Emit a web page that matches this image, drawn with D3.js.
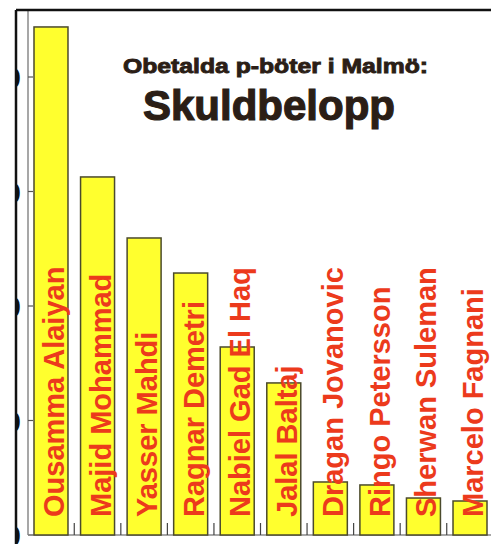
<!DOCTYPE html>
<html lang="sv">
<head>
<meta charset="UTF-8">
<title>Skuldbelopp</title>
<script src="https://d3js.org/d3.v7.min.js"></script>
<style>
    body { margin: 0; background: #fff; }
    svg { display: block; }
    .title { font-family: "Liberation Sans", Arial, sans-serif; font-weight: bold; fill: #2b1e16; stroke: #2b1e16; }
    .name { font-family: "Liberation Sans", Arial, sans-serif; font-size: 29px; font-weight: bold; fill: #ec3a1c; }
    .ytick { font-family: "Liberation Sans", Arial, sans-serif; font-size: 30px; font-weight: bold; fill: #111; }
</style>
</head>
<body>
<svg width="491" height="544"></svg>
<script>
    // bötesskulder per person (kr)
    const names = ["Ousamma Alaiyan", "Majid Mohammad", "Yasser Mahdi", "Ragnar Demetri",
        "Nabiel Gad El Haq", "Jalal Baltaj", "Dragan Jovanovic", "Ringo Petersson",
        "Sherwan Suleman", "Marcelo Fagnani"];
    const debts = [44370, 31270, 25940, 22880, 16420, 13280, 4630, 4370, 3230, 2970];
    const yTicks = [0, 10000, 20000, 30000, 40000];
    const titleLines = ["Obetalda p-böter i Malmö:", "Skuldbelopp"];

    const svg = d3.select("svg");

    const frameLeft = 16, frameTop = 10;
    const axisX = 28, baseY = 535;

    svg.append("defs").append("clipPath").attr("id", "frame")
        .append("rect").attr("x", frameLeft).attr("y", frameTop)
        .attr("width", 491 - frameLeft).attr("height", 544 - frameTop);

    const g = svg.append("g").attr("clip-path", "url(#frame)");

    const x = d3.scaleBand()
        .domain(names)
        .range([34, 487])
        .paddingInner(0.27)
        .paddingOuter(0);

    const y = d3.scaleLinear()
        .domain([0, 40000])
        .range([baseY, 77]);

    // y axis (labels are cut off by the frame, as in the original)
    g.append("line")
        .attr("x1", axisX).attr("x2", axisX)
        .attr("y1", frameTop).attr("y2", baseY)
        .attr("stroke", "#8a8a8a").attr("stroke-width", 1.5);

    g.selectAll(".yt").data(yTicks).enter().append("line")
        .attr("x1", axisX).attr("x2", axisX + 5)
        .attr("y1", d => y(d)).attr("y2", d => y(d))
        .attr("stroke", "#555").attr("stroke-width", 1.2);

    g.selectAll(".ytick").data(yTicks).enter().append("text")
        .attr("class", "ytick")
        .attr("x", 21)
        .attr("y", d => y(d) + 11)
        .attr("text-anchor", "end")
        .text(d => d);

    // x axis baseline + ticks between bars
    g.append("line")
        .attr("x1", axisX).attr("x2", 491)
        .attr("y1", baseY).attr("y2", baseY)
        .attr("stroke", "#8a8a8a").attr("stroke-width", 1.5);

    const gap = x.step() - x.bandwidth();
    g.selectAll(".xt").data(names.slice(1)).enter().append("line")
        .attr("x1", d => x(d) - gap / 2).attr("x2", d => x(d) - gap / 2)
        .attr("y1", baseY).attr("y2", baseY - 12)
        .attr("stroke", "#444").attr("stroke-width", 1.2);

    // bars
    g.selectAll(".bar").data(names).enter().append("rect")
        .attr("class", "bar")
        .attr("x", d => x(d))
        .attr("y", (d, i) => y(debts[i]))
        .attr("width", x.bandwidth())
        .attr("height", (d, i) => baseY - y(debts[i]))
        .attr("fill", "#ffff2e")
        .attr("stroke", "#4b4a2c")
        .attr("stroke-width", 1.5);

    // names, rotated
    g.selectAll(".name").data(names).enter().append("text")
        .attr("class", "name")
        .attr("transform", d => `translate(${x(d) + 30},517) rotate(-90)`)
        .text(d => d);

    // title
    g.append("text").attr("class", "title")
        .attr("x", 275.5).attr("y", 73)
        .attr("text-anchor", "middle")
        .attr("font-size", 21)
        .attr("stroke-width", 0.9)
        .attr("textLength", 305).attr("lengthAdjust", "spacingAndGlyphs")
        .text(titleLines[0]);

    g.append("text").attr("class", "title")
        .attr("x", 269).attr("y", 120)
        .attr("text-anchor", "middle")
        .attr("font-size", 42)
        .attr("stroke-width", 1.2)
        .text(titleLines[1]);

    // frame
    svg.append("line")
        .attr("x1", frameLeft).attr("x2", 491)
        .attr("y1", frameTop).attr("y2", frameTop)
        .attr("stroke", "#111").attr("stroke-width", 2.5);
    svg.append("line")
        .attr("x1", frameLeft).attr("x2", frameLeft)
        .attr("y1", frameTop).attr("y2", 544)
        .attr("stroke", "#111").attr("stroke-width", 2.5);
</script>
</body>
</html>
